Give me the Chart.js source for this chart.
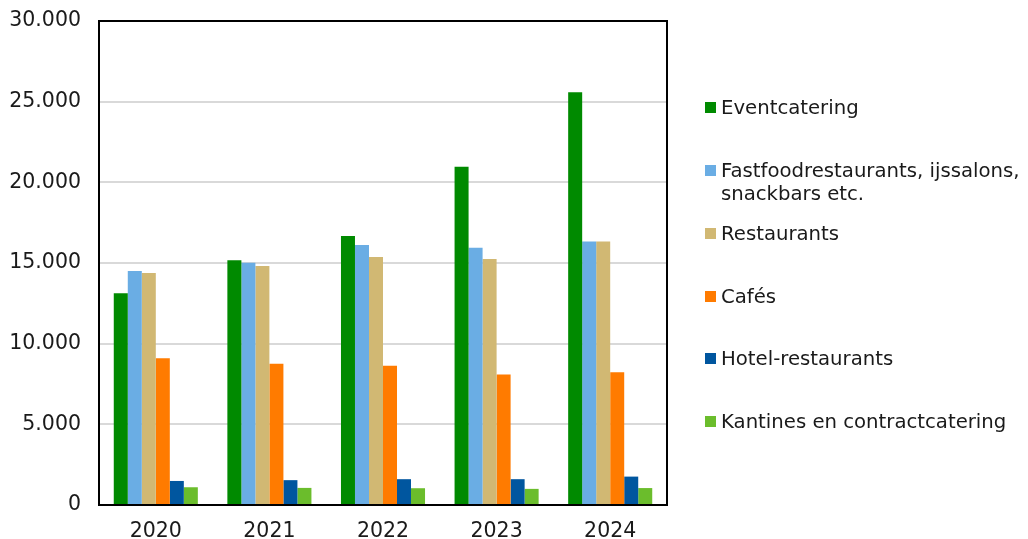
<!DOCTYPE html>
<html>
<head>
<meta charset="utf-8">
<script src="https://cdn.jsdelivr.net/npm/chart.js@4"></script>
<style>
  html, body { margin: 0; padding: 0; background: #fff; }
  #wrap { position: relative; width: 1028px; height: 539px; }
  #c { position: absolute; left: 0; top: 0; }
  .lg { position: absolute; left: 705px; font-family: "DejaVu Sans", Verdana, sans-serif; font-size: 19.7px; line-height: 23px; color: #1a1a1a; white-space: nowrap; }
  .lg .sw { position: absolute; left: 0; top: 6px; width: 11px; height: 11px; }
  .lg .tx { position: absolute; left: 16px; top: 0; }
</style>
</head>
<body>
<div id="wrap">
  <canvas id="c" width="1028" height="539"></canvas>
  <div id="legend"></div>
</div>
<script>
const categories = ["2020", "2021", "2022", "2023", "2024"];
const seriesNames = ["Eventcatering", "Fastfoodrestaurants, ijssalons,\nsnackbars etc.", "Restaurants", "Cafés", "Hotel-restaurants", "Kantines en contractcatering"];
const eventcatering = [13130, 15170, 16680, 20970, 25580];
const fastfood = [14500, 15020, 16120, 15950, 16340];
const restaurants = [14380, 14810, 15370, 15250, 16340];
const cafes = [9090, 8760, 8630, 8090, 8230];
const hotelRestaurants = [1490, 1540, 1600, 1600, 1760];
const kantines = [1100, 1060, 1040, 1000, 1050];
const yTicks = [0, 5000, 10000, 15000, 20000, 25000, 30000];
const colors = ["#008a00", "#6aade4", "#d1b873", "#ff7b00", "#00569f", "#6bbd2c"];
const legendY = [107, 170, 233, 296, 358, 421];

const seriesData = [eventcatering, fastfood, restaurants, cafes, hotelRestaurants, kantines];

const fmt = v => String(v).replace(/\B(?=(\d{3})+(?!\d))/g, ".");

const boxPlugin = {
  id: "box",
  afterDraw(chart) {
    const a = chart.chartArea, ctx = chart.ctx;
    ctx.save();
    ctx.strokeStyle = "#000";
    ctx.lineWidth = 2;
    ctx.strokeRect(a.left, a.top, a.right - a.left, a.bottom - a.top);
    ctx.restore();
  }
};

new Chart(document.getElementById("c"), {
  type: "bar",
  data: {
    labels: categories,
    datasets: seriesData.map((d, i) => ({
      label: seriesNames[i],
      data: d,
      backgroundColor: colors[i],
      borderWidth: 0,
      categoryPercentage: 0.74,
      barPercentage: 1.0
    }))
  },
  options: {
    responsive: false,
    animation: false,
    layout: { padding: { top: 21, right: 361, bottom: 0, left: 0 } },
    plugins: { legend: { display: false }, tooltip: { enabled: false } },
    scales: {
      x: {
        grid: { display: false, drawTicks: false },
        border: { display: true, color: "#000", width: 2 },
        ticks: { color: "#1a1a1a", font: { family: "DejaVu Sans", size: 20.5 }, padding: 14 },
        afterFit(s) { s.height = 34; s.paddingLeft = 0; s.paddingRight = 0; }
      },
      y: {
        min: 0, max: 30000,
        afterBuildTicks(s) { s.ticks = yTicks.map(v => ({ value: v })); },
        grid: { color: "#d9d9d9", lineWidth: 2, drawTicks: false },
        border: { display: true, color: "#000", width: 2 },
        ticks: { color: "#1a1a1a", font: { family: "DejaVu Sans", size: 20.5 }, padding: 18, callback: v => fmt(v) },
        afterFit(s) { s.width = 99; s.paddingTop = 0; s.paddingBottom = 0; }
      }
    }
  },
  plugins: [boxPlugin]
});

const lg = document.getElementById("legend");
seriesNames.forEach((n, i) => {
  const d = document.createElement("div");
  d.className = "lg";
  d.style.top = (legendY[i] - 11.5) + "px";
  const sw = document.createElement("div");
  sw.className = "sw";
  sw.style.background = colors[i];
  const tx = document.createElement("div");
  tx.className = "tx";
  tx.innerHTML = n.split("\n").map(s => s.replace(/&/g, "&amp;")).join("<br>");
  d.appendChild(sw); d.appendChild(tx);
  lg.appendChild(d);
});
</script>
</body>
</html>
